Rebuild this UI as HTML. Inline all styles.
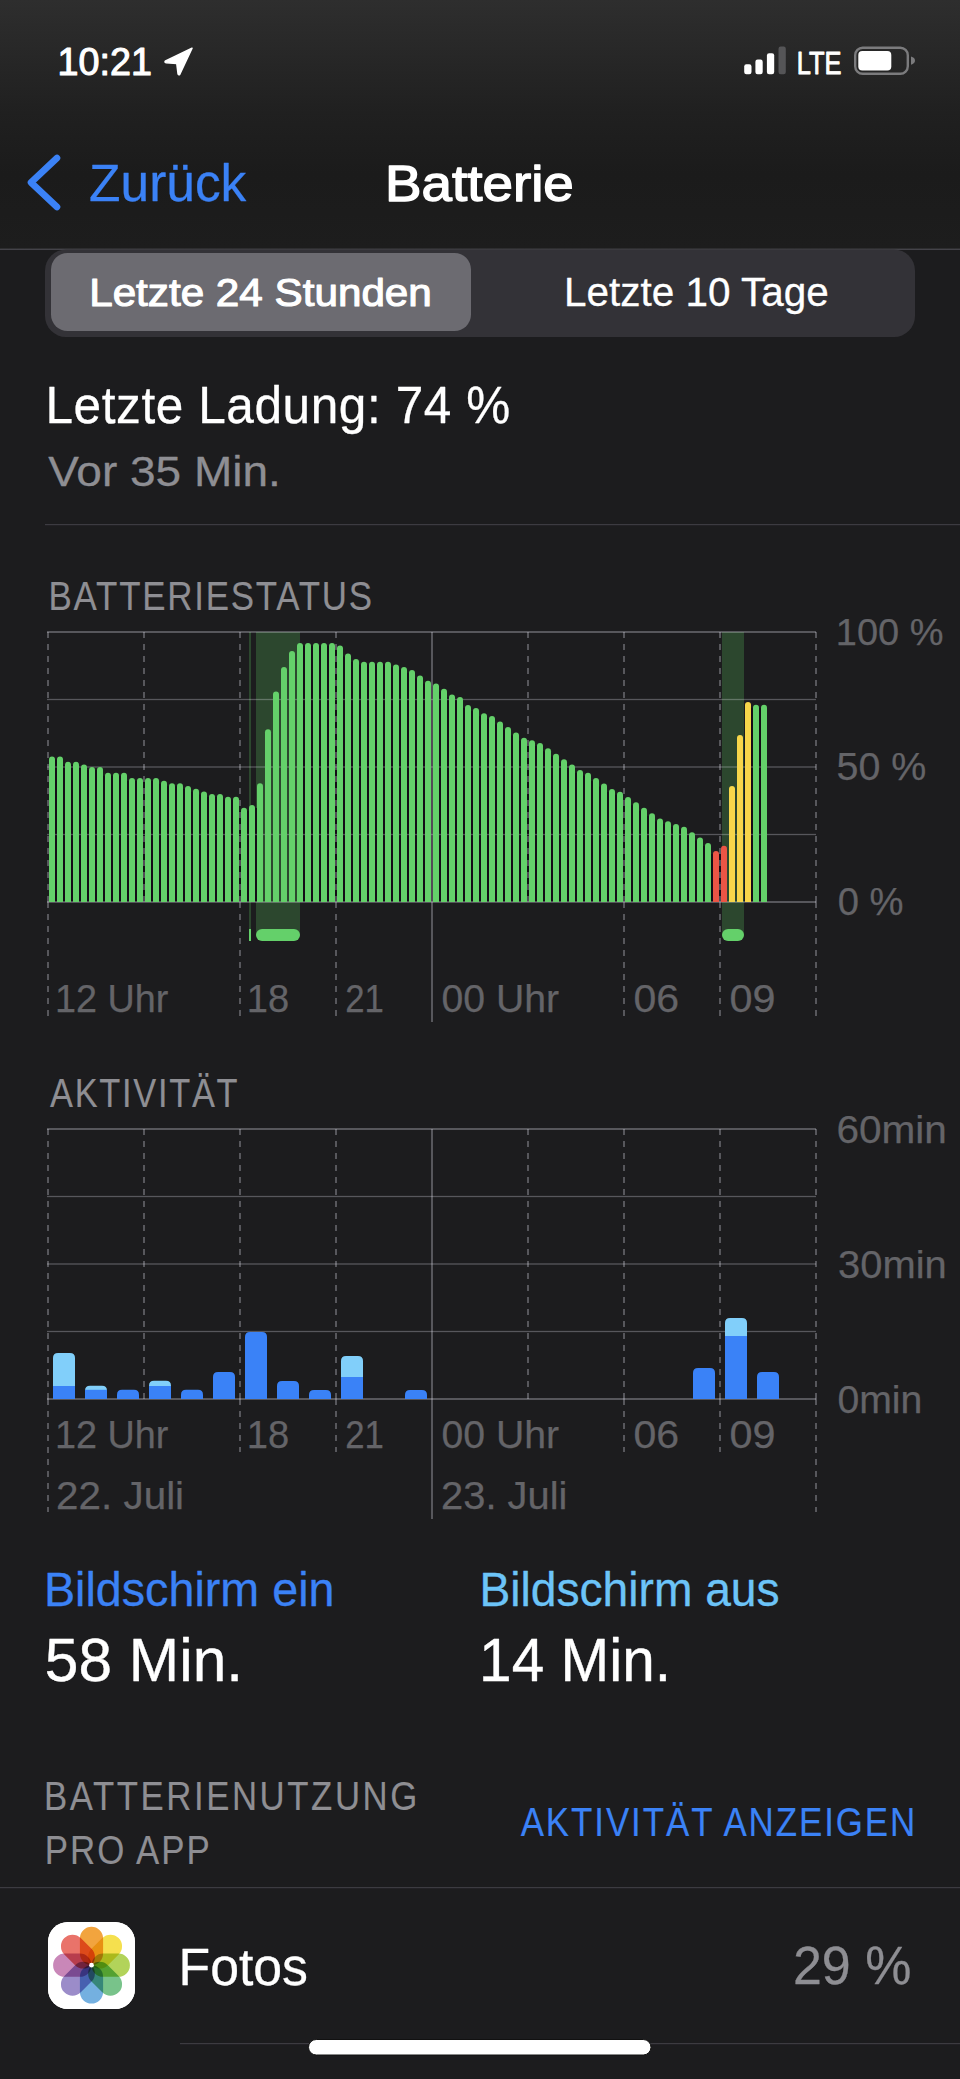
<!DOCTYPE html>
<html><head><meta charset="utf-8"><title>Batterie</title>
<style>html,body{margin:0;padding:0;background:#1c1c1e;width:960px;height:2079px;overflow:hidden;font-family:"Liberation Sans", sans-serif;}</style>
</head><body>
<svg width="960" height="2079" viewBox="0 0 960 2079" style="display:block;font-family:&quot;Liberation Sans&quot;, sans-serif">
<rect width="960" height="2079" fill="#1c1c1e"/>
<defs><linearGradient id="hg" x1="0" y1="0" x2="0" y2="1"><stop offset="0" stop-color="#2e2e2e"/><stop offset="0.45" stop-color="#202020"/><stop offset="0.7" stop-color="#1b1b1b"/><stop offset="1" stop-color="#1d1d1d"/></linearGradient></defs>
<rect x="0" y="0" width="960" height="249" fill="url(#hg)"/>
<path d="M192,48.2 L165.6,60.9 Q164.2,62.3 166.2,62.8 L176.8,63.4 L178.1,74 Q178.9,75.6 179.9,74 Z" fill="#fff" stroke="#fff" stroke-width="1.6" stroke-linejoin="round"/>
<rect x="744.2" y="64.2" width="7.3" height="10.0" rx="2.2" fill="#fff"/>
<rect x="755.4" y="59.6" width="7.3" height="14.6" rx="2.2" fill="#fff"/>
<rect x="766.9" y="53.3" width="7.3" height="20.9" rx="2.2" fill="#fff"/>
<rect x="778.5" y="46.5" width="7.3" height="27.7" rx="2.2" fill="#555557"/>
<rect x="855.2" y="47.7" width="52.6" height="26.1" rx="7.5" fill="none" stroke="#7b7b7d" stroke-width="2.4"/>
<rect x="858.3" y="51" width="33" height="19.4" rx="4" fill="#fff"/>
<path d="M911,56.5 Q915,57.5 915,60.6 Q915,63.7 911,64.8 Z" fill="#7b7b7d"/>
<path d="M57,158 L31,182.5 L57,207" fill="none" stroke="#3b82f6" stroke-width="6.6" stroke-linecap="round" stroke-linejoin="round"/>
<rect x="0" y="248.6" width="960" height="1.3" fill="#4a494e"/>
<rect x="45" y="249.5" width="870" height="87.5" rx="21" fill="#333237"/>
<rect x="51" y="253" width="420" height="78" rx="16.5" fill="#6c6b71"/>
<rect x="45" y="524" width="915" height="1.2" fill="#3c3b41"/>
<rect x="256" y="632" width="44" height="303" fill="#2c472e"/>
<rect x="722" y="632" width="22" height="303" fill="#2c472e"/>
<rect x="249" y="632" width="2" height="303" fill="#2c472e"/>
<rect x="55" y="759.5" width="2" height="142.5" fill="#140c16"/>
<rect x="63" y="764.8" width="2" height="137.2" fill="#140c16"/>
<rect x="71" y="764.8" width="2" height="137.2" fill="#140c16"/>
<rect x="79" y="767.5" width="2" height="134.5" fill="#140c16"/>
<rect x="87" y="770.0" width="2" height="132.0" fill="#140c16"/>
<rect x="95" y="770.0" width="2" height="132.0" fill="#140c16"/>
<rect x="103" y="775.8" width="2" height="126.2" fill="#140c16"/>
<rect x="111" y="775.8" width="2" height="126.2" fill="#140c16"/>
<rect x="119" y="775.8" width="2" height="126.2" fill="#140c16"/>
<rect x="127" y="781.0" width="2" height="121.0" fill="#140c16"/>
<rect x="135" y="781.0" width="2" height="121.0" fill="#140c16"/>
<rect x="143" y="781.0" width="2" height="121.0" fill="#140c16"/>
<rect x="151" y="781.0" width="2" height="121.0" fill="#140c16"/>
<rect x="159" y="783.8" width="2" height="118.2" fill="#140c16"/>
<rect x="167" y="786.3" width="2" height="115.7" fill="#140c16"/>
<rect x="175" y="786.3" width="2" height="115.7" fill="#140c16"/>
<rect x="183" y="789.0" width="2" height="113.0" fill="#140c16"/>
<rect x="191" y="791.8" width="2" height="110.2" fill="#140c16"/>
<rect x="199" y="794.6" width="2" height="107.4" fill="#140c16"/>
<rect x="207" y="797.0" width="2" height="105.0" fill="#140c16"/>
<rect x="215" y="797.0" width="2" height="105.0" fill="#140c16"/>
<rect x="223" y="799.8" width="2" height="102.2" fill="#140c16"/>
<rect x="231" y="799.8" width="2" height="102.2" fill="#140c16"/>
<rect x="239" y="810.8" width="2" height="91.2" fill="#140c16"/>
<rect x="247" y="810.8" width="2" height="91.2" fill="#140c16"/>
<rect x="255" y="808.0" width="2" height="94.0" fill="#140c16"/>
<rect x="303" y="645.9" width="2" height="256.1" fill="#140c16"/>
<rect x="311" y="645.9" width="2" height="256.1" fill="#140c16"/>
<rect x="319" y="645.9" width="2" height="256.1" fill="#140c16"/>
<rect x="327" y="645.9" width="2" height="256.1" fill="#140c16"/>
<rect x="335" y="648.6" width="2" height="253.4" fill="#140c16"/>
<rect x="343" y="656.6" width="2" height="245.4" fill="#140c16"/>
<rect x="351" y="661.9" width="2" height="240.1" fill="#140c16"/>
<rect x="359" y="664.7" width="2" height="237.3" fill="#140c16"/>
<rect x="367" y="664.7" width="2" height="237.3" fill="#140c16"/>
<rect x="375" y="664.7" width="2" height="237.3" fill="#140c16"/>
<rect x="383" y="664.7" width="2" height="237.3" fill="#140c16"/>
<rect x="391" y="667.4" width="2" height="234.6" fill="#140c16"/>
<rect x="399" y="669.9" width="2" height="232.1" fill="#140c16"/>
<rect x="407" y="672.9" width="2" height="229.1" fill="#140c16"/>
<rect x="415" y="678.4" width="2" height="223.6" fill="#140c16"/>
<rect x="423" y="683.7" width="2" height="218.3" fill="#140c16"/>
<rect x="431" y="686.4" width="2" height="215.6" fill="#140c16"/>
<rect x="439" y="691.7" width="2" height="210.3" fill="#140c16"/>
<rect x="447" y="697.4" width="2" height="204.6" fill="#140c16"/>
<rect x="455" y="700.1" width="2" height="201.9" fill="#140c16"/>
<rect x="463" y="708.1" width="2" height="193.9" fill="#140c16"/>
<rect x="471" y="710.9" width="2" height="191.1" fill="#140c16"/>
<rect x="479" y="716.2" width="2" height="185.8" fill="#140c16"/>
<rect x="487" y="718.9" width="2" height="183.1" fill="#140c16"/>
<rect x="495" y="724.4" width="2" height="177.6" fill="#140c16"/>
<rect x="503" y="729.9" width="2" height="172.1" fill="#140c16"/>
<rect x="511" y="735.4" width="2" height="166.6" fill="#140c16"/>
<rect x="519" y="740.7" width="2" height="161.3" fill="#140c16"/>
<rect x="527" y="743.2" width="2" height="158.8" fill="#140c16"/>
<rect x="535" y="746.0" width="2" height="156.0" fill="#140c16"/>
<rect x="543" y="751.2" width="2" height="150.8" fill="#140c16"/>
<rect x="551" y="756.7" width="2" height="145.3" fill="#140c16"/>
<rect x="559" y="762.2" width="2" height="139.8" fill="#140c16"/>
<rect x="567" y="767.5" width="2" height="134.5" fill="#140c16"/>
<rect x="575" y="773.0" width="2" height="129.0" fill="#140c16"/>
<rect x="583" y="775.7" width="2" height="126.3" fill="#140c16"/>
<rect x="591" y="781.0" width="2" height="121.0" fill="#140c16"/>
<rect x="599" y="786.5" width="2" height="115.5" fill="#140c16"/>
<rect x="607" y="792.0" width="2" height="110.0" fill="#140c16"/>
<rect x="615" y="794.8" width="2" height="107.2" fill="#140c16"/>
<rect x="623" y="800.0" width="2" height="102.0" fill="#140c16"/>
<rect x="631" y="805.3" width="2" height="96.7" fill="#140c16"/>
<rect x="639" y="810.8" width="2" height="91.2" fill="#140c16"/>
<rect x="647" y="816.2" width="2" height="85.8" fill="#140c16"/>
<rect x="655" y="821.4" width="2" height="80.6" fill="#140c16"/>
<rect x="663" y="824.2" width="2" height="77.8" fill="#140c16"/>
<rect x="671" y="826.9" width="2" height="75.1" fill="#140c16"/>
<rect x="679" y="829.7" width="2" height="72.3" fill="#140c16"/>
<rect x="687" y="835.2" width="2" height="66.8" fill="#140c16"/>
<rect x="695" y="840.5" width="2" height="61.5" fill="#140c16"/>
<rect x="703" y="846.0" width="2" height="56.0" fill="#140c16"/>
<rect x="711" y="854.0" width="2" height="48.0" fill="#140c16"/>
<rect x="719" y="854.0" width="2" height="48.0" fill="#140c16"/>
<rect x="751" y="707.8" width="2" height="194.2" fill="#140c16"/>
<rect x="759" y="707.8" width="2" height="194.2" fill="#140c16"/>
<rect x="47" y="631.0" width="769" height="2" fill="rgba(235,235,245,0.29)"/>
<rect x="47" y="698.85" width="769" height="1.3" fill="rgba(235,235,245,0.29)"/>
<rect x="47" y="766.35" width="769" height="1.3" fill="rgba(235,235,245,0.29)"/>
<rect x="47" y="833.85" width="769" height="1.3" fill="rgba(235,235,245,0.29)"/>
<rect x="47" y="901.0" width="769" height="2" fill="rgba(235,235,245,0.29)"/>
<line x1="48" y1="632" x2="48" y2="902" stroke="rgba(235,235,245,0.29)" stroke-width="2" stroke-dasharray="6 6"/>
<line x1="144" y1="632" x2="144" y2="902" stroke="rgba(235,235,245,0.29)" stroke-width="2" stroke-dasharray="6 6"/>
<line x1="240" y1="632" x2="240" y2="902" stroke="rgba(235,235,245,0.29)" stroke-width="2" stroke-dasharray="6 6"/>
<line x1="336" y1="632" x2="336" y2="902" stroke="rgba(235,235,245,0.29)" stroke-width="2" stroke-dasharray="6 6"/>
<line x1="528" y1="632" x2="528" y2="902" stroke="rgba(235,235,245,0.29)" stroke-width="2" stroke-dasharray="6 6"/>
<line x1="624" y1="632" x2="624" y2="902" stroke="rgba(235,235,245,0.29)" stroke-width="2" stroke-dasharray="6 6"/>
<line x1="720" y1="632" x2="720" y2="902" stroke="rgba(235,235,245,0.29)" stroke-width="2" stroke-dasharray="6 6"/>
<line x1="816" y1="632" x2="816" y2="902" stroke="rgba(235,235,245,0.29)" stroke-width="2" stroke-dasharray="6 6"/>
<rect x="431.0" y="632" width="2" height="270" fill="rgba(235,235,245,0.29)"/>
<line x1="48" y1="902" x2="48" y2="1016" stroke="rgba(235,235,245,0.29)" stroke-width="2" stroke-dasharray="6 6"/>
<line x1="240" y1="902" x2="240" y2="1016" stroke="rgba(235,235,245,0.29)" stroke-width="2" stroke-dasharray="6 6"/>
<line x1="336" y1="902" x2="336" y2="1016" stroke="rgba(235,235,245,0.29)" stroke-width="2" stroke-dasharray="6 6"/>
<line x1="624" y1="902" x2="624" y2="1016" stroke="rgba(235,235,245,0.29)" stroke-width="2" stroke-dasharray="6 6"/>
<line x1="720" y1="902" x2="720" y2="1016" stroke="rgba(235,235,245,0.29)" stroke-width="2" stroke-dasharray="6 6"/>
<line x1="816" y1="902" x2="816" y2="1016" stroke="rgba(235,235,245,0.29)" stroke-width="2" stroke-dasharray="6 6"/>
<rect x="431.0" y="902" width="2" height="120" fill="rgba(235,235,245,0.29)"/>
<rect x="256" y="929" width="44" height="12" rx="6" fill="#64d06a"/>
<rect x="722" y="929" width="22" height="12" rx="6" fill="#64d06a"/>
<rect x="249" y="929" width="2" height="12" fill="#64d06a"/>
<path d="M49,902 L49,759.5 A3,3 0 0 1 55,759.5 L55,902 Z" fill="#64d06a"/>
<path d="M57,902 L57,759.5 A3,3 0 0 1 63,759.5 L63,902 Z" fill="#64d06a"/>
<path d="M65,902 L65,764.8 A3,3 0 0 1 71,764.8 L71,902 Z" fill="#64d06a"/>
<path d="M73,902 L73,764.8 A3,3 0 0 1 79,764.8 L79,902 Z" fill="#64d06a"/>
<path d="M81,902 L81,767.5 A3,3 0 0 1 87,767.5 L87,902 Z" fill="#64d06a"/>
<path d="M89,902 L89,770.0 A3,3 0 0 1 95,770.0 L95,902 Z" fill="#64d06a"/>
<path d="M97,902 L97,770.0 A3,3 0 0 1 103,770.0 L103,902 Z" fill="#64d06a"/>
<path d="M105,902 L105,775.8 A3,3 0 0 1 111,775.8 L111,902 Z" fill="#64d06a"/>
<path d="M113,902 L113,775.8 A3,3 0 0 1 119,775.8 L119,902 Z" fill="#64d06a"/>
<path d="M121,902 L121,775.8 A3,3 0 0 1 127,775.8 L127,902 Z" fill="#64d06a"/>
<path d="M129,902 L129,781.0 A3,3 0 0 1 135,781.0 L135,902 Z" fill="#64d06a"/>
<path d="M137,902 L137,781.0 A3,3 0 0 1 143,781.0 L143,902 Z" fill="#64d06a"/>
<path d="M145,902 L145,781.0 A3,3 0 0 1 151,781.0 L151,902 Z" fill="#64d06a"/>
<path d="M153,902 L153,781.0 A3,3 0 0 1 159,781.0 L159,902 Z" fill="#64d06a"/>
<path d="M161,902 L161,783.8 A3,3 0 0 1 167,783.8 L167,902 Z" fill="#64d06a"/>
<path d="M169,902 L169,786.3 A3,3 0 0 1 175,786.3 L175,902 Z" fill="#64d06a"/>
<path d="M177,902 L177,786.3 A3,3 0 0 1 183,786.3 L183,902 Z" fill="#64d06a"/>
<path d="M185,902 L185,789.0 A3,3 0 0 1 191,789.0 L191,902 Z" fill="#64d06a"/>
<path d="M193,902 L193,791.8 A3,3 0 0 1 199,791.8 L199,902 Z" fill="#64d06a"/>
<path d="M201,902 L201,794.6 A3,3 0 0 1 207,794.6 L207,902 Z" fill="#64d06a"/>
<path d="M209,902 L209,797.0 A3,3 0 0 1 215,797.0 L215,902 Z" fill="#64d06a"/>
<path d="M217,902 L217,797.0 A3,3 0 0 1 223,797.0 L223,902 Z" fill="#64d06a"/>
<path d="M225,902 L225,799.8 A3,3 0 0 1 231,799.8 L231,902 Z" fill="#64d06a"/>
<path d="M233,902 L233,799.8 A3,3 0 0 1 239,799.8 L239,902 Z" fill="#64d06a"/>
<path d="M241,902 L241,810.8 A3,3 0 0 1 247,810.8 L247,902 Z" fill="#64d06a"/>
<path d="M249,902 L249,808.0 A3,3 0 0 1 255,808.0 L255,902 Z" fill="#64d06a"/>
<path d="M257,902 L257,786.3 A3,3 0 0 1 263,786.3 L263,902 Z" fill="#64d06a"/>
<path d="M265,902 L265,732.3 A3,3 0 0 1 271,732.3 L271,902 Z" fill="#64d06a"/>
<path d="M273,902 L273,694.5 A3,3 0 0 1 279,694.5 L279,902 Z" fill="#64d06a"/>
<path d="M281,902 L281,669.9 A3,3 0 0 1 287,669.9 L287,902 Z" fill="#64d06a"/>
<path d="M289,902 L289,653.9 A3,3 0 0 1 295,653.9 L295,902 Z" fill="#64d06a"/>
<path d="M297,902 L297,645.9 A3,3 0 0 1 303,645.9 L303,902 Z" fill="#64d06a"/>
<path d="M305,902 L305,645.9 A3,3 0 0 1 311,645.9 L311,902 Z" fill="#64d06a"/>
<path d="M313,902 L313,645.9 A3,3 0 0 1 319,645.9 L319,902 Z" fill="#64d06a"/>
<path d="M321,902 L321,645.9 A3,3 0 0 1 327,645.9 L327,902 Z" fill="#64d06a"/>
<path d="M329,902 L329,645.9 A3,3 0 0 1 335,645.9 L335,902 Z" fill="#64d06a"/>
<path d="M337,902 L337,648.6 A3,3 0 0 1 343,648.6 L343,902 Z" fill="#64d06a"/>
<path d="M345,902 L345,656.6 A3,3 0 0 1 351,656.6 L351,902 Z" fill="#64d06a"/>
<path d="M353,902 L353,661.9 A3,3 0 0 1 359,661.9 L359,902 Z" fill="#64d06a"/>
<path d="M361,902 L361,664.7 A3,3 0 0 1 367,664.7 L367,902 Z" fill="#64d06a"/>
<path d="M369,902 L369,664.7 A3,3 0 0 1 375,664.7 L375,902 Z" fill="#64d06a"/>
<path d="M377,902 L377,664.7 A3,3 0 0 1 383,664.7 L383,902 Z" fill="#64d06a"/>
<path d="M385,902 L385,664.7 A3,3 0 0 1 391,664.7 L391,902 Z" fill="#64d06a"/>
<path d="M393,902 L393,667.4 A3,3 0 0 1 399,667.4 L399,902 Z" fill="#64d06a"/>
<path d="M401,902 L401,669.9 A3,3 0 0 1 407,669.9 L407,902 Z" fill="#64d06a"/>
<path d="M409,902 L409,672.9 A3,3 0 0 1 415,672.9 L415,902 Z" fill="#64d06a"/>
<path d="M417,902 L417,678.4 A3,3 0 0 1 423,678.4 L423,902 Z" fill="#64d06a"/>
<path d="M425,902 L425,683.7 A3,3 0 0 1 431,683.7 L431,902 Z" fill="#64d06a"/>
<path d="M433,902 L433,686.4 A3,3 0 0 1 439,686.4 L439,902 Z" fill="#64d06a"/>
<path d="M441,902 L441,691.7 A3,3 0 0 1 447,691.7 L447,902 Z" fill="#64d06a"/>
<path d="M449,902 L449,697.4 A3,3 0 0 1 455,697.4 L455,902 Z" fill="#64d06a"/>
<path d="M457,902 L457,700.1 A3,3 0 0 1 463,700.1 L463,902 Z" fill="#64d06a"/>
<path d="M465,902 L465,708.1 A3,3 0 0 1 471,708.1 L471,902 Z" fill="#64d06a"/>
<path d="M473,902 L473,710.9 A3,3 0 0 1 479,710.9 L479,902 Z" fill="#64d06a"/>
<path d="M481,902 L481,716.2 A3,3 0 0 1 487,716.2 L487,902 Z" fill="#64d06a"/>
<path d="M489,902 L489,718.9 A3,3 0 0 1 495,718.9 L495,902 Z" fill="#64d06a"/>
<path d="M497,902 L497,724.4 A3,3 0 0 1 503,724.4 L503,902 Z" fill="#64d06a"/>
<path d="M505,902 L505,729.9 A3,3 0 0 1 511,729.9 L511,902 Z" fill="#64d06a"/>
<path d="M513,902 L513,735.4 A3,3 0 0 1 519,735.4 L519,902 Z" fill="#64d06a"/>
<path d="M521,902 L521,740.7 A3,3 0 0 1 527,740.7 L527,902 Z" fill="#64d06a"/>
<path d="M529,902 L529,743.2 A3,3 0 0 1 535,743.2 L535,902 Z" fill="#64d06a"/>
<path d="M537,902 L537,746.0 A3,3 0 0 1 543,746.0 L543,902 Z" fill="#64d06a"/>
<path d="M545,902 L545,751.2 A3,3 0 0 1 551,751.2 L551,902 Z" fill="#64d06a"/>
<path d="M553,902 L553,756.7 A3,3 0 0 1 559,756.7 L559,902 Z" fill="#64d06a"/>
<path d="M561,902 L561,762.2 A3,3 0 0 1 567,762.2 L567,902 Z" fill="#64d06a"/>
<path d="M569,902 L569,767.5 A3,3 0 0 1 575,767.5 L575,902 Z" fill="#64d06a"/>
<path d="M577,902 L577,773.0 A3,3 0 0 1 583,773.0 L583,902 Z" fill="#64d06a"/>
<path d="M585,902 L585,775.7 A3,3 0 0 1 591,775.7 L591,902 Z" fill="#64d06a"/>
<path d="M593,902 L593,781.0 A3,3 0 0 1 599,781.0 L599,902 Z" fill="#64d06a"/>
<path d="M601,902 L601,786.5 A3,3 0 0 1 607,786.5 L607,902 Z" fill="#64d06a"/>
<path d="M609,902 L609,792.0 A3,3 0 0 1 615,792.0 L615,902 Z" fill="#64d06a"/>
<path d="M617,902 L617,794.8 A3,3 0 0 1 623,794.8 L623,902 Z" fill="#64d06a"/>
<path d="M625,902 L625,800.0 A3,3 0 0 1 631,800.0 L631,902 Z" fill="#64d06a"/>
<path d="M633,902 L633,805.3 A3,3 0 0 1 639,805.3 L639,902 Z" fill="#64d06a"/>
<path d="M641,902 L641,810.8 A3,3 0 0 1 647,810.8 L647,902 Z" fill="#64d06a"/>
<path d="M649,902 L649,816.2 A3,3 0 0 1 655,816.2 L655,902 Z" fill="#64d06a"/>
<path d="M657,902 L657,821.4 A3,3 0 0 1 663,821.4 L663,902 Z" fill="#64d06a"/>
<path d="M665,902 L665,824.2 A3,3 0 0 1 671,824.2 L671,902 Z" fill="#64d06a"/>
<path d="M673,902 L673,826.9 A3,3 0 0 1 679,826.9 L679,902 Z" fill="#64d06a"/>
<path d="M681,902 L681,829.7 A3,3 0 0 1 687,829.7 L687,902 Z" fill="#64d06a"/>
<path d="M689,902 L689,835.2 A3,3 0 0 1 695,835.2 L695,902 Z" fill="#64d06a"/>
<path d="M697,902 L697,840.5 A3,3 0 0 1 703,840.5 L703,902 Z" fill="#64d06a"/>
<path d="M705,902 L705,846.0 A3,3 0 0 1 711,846.0 L711,902 Z" fill="#64d06a"/>
<path d="M713,902 L713,854.0 A3,3 0 0 1 719,854.0 L719,902 Z" fill="#eb5545"/>
<path d="M721,902 L721,848.7 A3,3 0 0 1 727,848.7 L727,902 Z" fill="#eb5545"/>
<path d="M729,902 L729,789.1 A3,3 0 0 1 735,789.1 L735,902 Z" fill="#f7d64a"/>
<path d="M737,902 L737,738.0 A3,3 0 0 1 743,738.0 L743,902 Z" fill="#f7d64a"/>
<path d="M745,902 L745,705.0 A3,3 0 0 1 751,705.0 L751,902 Z" fill="#f7d64a"/>
<path d="M753,902 L753,707.8 A3,3 0 0 1 759,707.8 L759,902 Z" fill="#64d06a"/>
<path d="M761,902 L761,707.8 A3,3 0 0 1 767,707.8 L767,902 Z" fill="#64d06a"/>
<rect x="47" y="1128.0" width="769" height="2" fill="rgba(235,235,245,0.29)"/>
<rect x="47" y="1195.85" width="769" height="1.3" fill="rgba(235,235,245,0.29)"/>
<rect x="47" y="1263.35" width="769" height="1.3" fill="rgba(235,235,245,0.29)"/>
<rect x="47" y="1330.85" width="769" height="1.3" fill="rgba(235,235,245,0.29)"/>
<rect x="47" y="1398.0" width="769" height="2" fill="rgba(235,235,245,0.29)"/>
<line x1="48" y1="1129" x2="48" y2="1399" stroke="rgba(235,235,245,0.29)" stroke-width="2" stroke-dasharray="6 6"/>
<line x1="144" y1="1129" x2="144" y2="1399" stroke="rgba(235,235,245,0.29)" stroke-width="2" stroke-dasharray="6 6"/>
<line x1="240" y1="1129" x2="240" y2="1399" stroke="rgba(235,235,245,0.29)" stroke-width="2" stroke-dasharray="6 6"/>
<line x1="336" y1="1129" x2="336" y2="1399" stroke="rgba(235,235,245,0.29)" stroke-width="2" stroke-dasharray="6 6"/>
<line x1="528" y1="1129" x2="528" y2="1399" stroke="rgba(235,235,245,0.29)" stroke-width="2" stroke-dasharray="6 6"/>
<line x1="624" y1="1129" x2="624" y2="1399" stroke="rgba(235,235,245,0.29)" stroke-width="2" stroke-dasharray="6 6"/>
<line x1="720" y1="1129" x2="720" y2="1399" stroke="rgba(235,235,245,0.29)" stroke-width="2" stroke-dasharray="6 6"/>
<line x1="816" y1="1129" x2="816" y2="1399" stroke="rgba(235,235,245,0.29)" stroke-width="2" stroke-dasharray="6 6"/>
<rect x="431.0" y="1129" width="2" height="270" fill="rgba(235,235,245,0.29)"/>
<line x1="240" y1="1399" x2="240" y2="1452" stroke="rgba(235,235,245,0.29)" stroke-width="2" stroke-dasharray="6 6"/>
<line x1="336" y1="1399" x2="336" y2="1452" stroke="rgba(235,235,245,0.29)" stroke-width="2" stroke-dasharray="6 6"/>
<line x1="624" y1="1399" x2="624" y2="1452" stroke="rgba(235,235,245,0.29)" stroke-width="2" stroke-dasharray="6 6"/>
<line x1="720" y1="1399" x2="720" y2="1452" stroke="rgba(235,235,245,0.29)" stroke-width="2" stroke-dasharray="6 6"/>
<line x1="48" y1="1399" x2="48" y2="1512" stroke="rgba(235,235,245,0.29)" stroke-width="2" stroke-dasharray="6 6"/>
<line x1="816" y1="1399" x2="816" y2="1512" stroke="rgba(235,235,245,0.29)" stroke-width="2" stroke-dasharray="6 6"/>
<rect x="431.0" y="1399" width="2" height="120" fill="rgba(235,235,245,0.29)"/>
<path d="M53,1399 L53,1358 Q53,1353 58,1353 L70,1353 Q75,1353 75,1358 L75,1399 Z" fill="#81cffa"/>
<rect x="53" y="1386" width="22" height="13" fill="#3a82f7"/>
<path d="M85,1399.0 L85,1390.8 Q85,1385.8 90,1385.8 L102,1385.8 Q107,1385.8 107,1390.8 L107,1399.0 Z" fill="#81cffa"/>
<rect x="85" y="1389.8" width="22" height="9.2" fill="#3a82f7"/>
<path d="M117,1399.0 L117,1394.8 Q117,1389.8 122,1389.8 L134,1389.8 Q139,1389.8 139,1394.8 L139,1399.0 Z" fill="#3a82f7"/>
<path d="M149,1399.0 L149,1385.8 Q149,1380.8 154,1380.8 L166,1380.8 Q171,1380.8 171,1385.8 L171,1399.0 Z" fill="#81cffa"/>
<rect x="149" y="1386" width="22" height="13" fill="#3a82f7"/>
<path d="M181,1399.0 L181,1394.8 Q181,1389.8 186,1389.8 L198,1389.8 Q203,1389.8 203,1394.8 L203,1399.0 Z" fill="#3a82f7"/>
<path d="M213,1399 L213,1377 Q213,1372 218,1372 L230,1372 Q235,1372 235,1377 L235,1399 Z" fill="#3a82f7"/>
<path d="M245,1399 L245,1337 Q245,1332 250,1332 L262,1332 Q267,1332 267,1337 L267,1399 Z" fill="#3a82f7"/>
<path d="M277,1399 L277,1386 Q277,1381 282,1381 L294,1381 Q299,1381 299,1386 L299,1399 Z" fill="#3a82f7"/>
<path d="M309,1399 L309,1395 Q309,1390 314,1390 L326,1390 Q331,1390 331,1395 L331,1399 Z" fill="#3a82f7"/>
<path d="M341,1399 L341,1361 Q341,1356 346,1356 L358,1356 Q363,1356 363,1361 L363,1399 Z" fill="#81cffa"/>
<rect x="341" y="1377" width="22" height="22" fill="#3a82f7"/>
<path d="M405,1399 L405,1395 Q405,1390 410,1390 L422,1390 Q427,1390 427,1395 L427,1399 Z" fill="#3a82f7"/>
<path d="M693,1399 L693,1373 Q693,1368 698,1368 L710,1368 Q715,1368 715,1373 L715,1399 Z" fill="#3a82f7"/>
<path d="M725,1399 L725,1323 Q725,1318 730,1318 L742,1318 Q747,1318 747,1323 L747,1399 Z" fill="#81cffa"/>
<rect x="725" y="1336" width="22" height="63" fill="#3a82f7"/>
<path d="M757,1399 L757,1377 Q757,1372 762,1372 L774,1372 Q779,1372 779,1377 L779,1399 Z" fill="#3a82f7"/>
<rect x="0" y="1887" width="960" height="1.2" fill="#3c3b41"/>
<rect x="48" y="1922" width="87" height="87" rx="20" fill="#fff"/>
<g style="isolation:isolate">
<rect x="48" y="1922" width="87" height="87" rx="20" fill="#fff"/>
<path d="M-11.6,-26.8 A11.6,11.6 0 0 1 11.6,-26.8 L11.6,-11.6 A11.6,11.6 0 0 1 -11.6,-11.6 Z" fill="#f2a43e" transform="translate(91.5 1965.2) rotate(0)" style="mix-blend-mode:multiply"/>
<path d="M-11.6,-26.8 A11.6,11.6 0 0 1 11.6,-26.8 L11.6,-11.6 A11.6,11.6 0 0 1 -11.6,-11.6 Z" fill="#f5e04e" transform="translate(91.5 1965.2) rotate(45)" style="mix-blend-mode:multiply"/>
<path d="M-11.6,-26.8 A11.6,11.6 0 0 1 11.6,-26.8 L11.6,-11.6 A11.6,11.6 0 0 1 -11.6,-11.6 Z" fill="#b2d35a" transform="translate(91.5 1965.2) rotate(90)" style="mix-blend-mode:multiply"/>
<path d="M-11.6,-26.8 A11.6,11.6 0 0 1 11.6,-26.8 L11.6,-11.6 A11.6,11.6 0 0 1 -11.6,-11.6 Z" fill="#78c38a" transform="translate(91.5 1965.2) rotate(135)" style="mix-blend-mode:multiply"/>
<path d="M-11.6,-26.8 A11.6,11.6 0 0 1 11.6,-26.8 L11.6,-11.6 A11.6,11.6 0 0 1 -11.6,-11.6 Z" fill="#74b0e0" transform="translate(91.5 1965.2) rotate(180)" style="mix-blend-mode:multiply"/>
<path d="M-11.6,-26.8 A11.6,11.6 0 0 1 11.6,-26.8 L11.6,-11.6 A11.6,11.6 0 0 1 -11.6,-11.6 Z" fill="#9b8cc9" transform="translate(91.5 1965.2) rotate(225)" style="mix-blend-mode:multiply"/>
<path d="M-11.6,-26.8 A11.6,11.6 0 0 1 11.6,-26.8 L11.6,-11.6 A11.6,11.6 0 0 1 -11.6,-11.6 Z" fill="#c987b8" transform="translate(91.5 1965.2) rotate(270)" style="mix-blend-mode:multiply"/>
<path d="M-11.6,-26.8 A11.6,11.6 0 0 1 11.6,-26.8 L11.6,-11.6 A11.6,11.6 0 0 1 -11.6,-11.6 Z" fill="#e9736a" transform="translate(91.5 1965.2) rotate(315)" style="mix-blend-mode:multiply"/>
</g>
<circle cx="91.5" cy="1965.2" r="2.4" fill="#fff"/>
<rect x="180" y="2043" width="780" height="1.2" fill="#3c3b41"/>
<rect x="308.5" y="2039.5" width="342.5" height="15.5" rx="7.75" fill="#fff" stroke="#111" stroke-width="1"/>
<text x="57.61" y="75" font-size="39.61" fill="#ffffff" textLength="94.38" lengthAdjust="spacingAndGlyphs" stroke="#ffffff" stroke-width="1.1" stroke-linejoin="round">10:21</text>
<text x="796.71" y="73.5" font-size="30.60" fill="#ffffff" textLength="44.78" lengthAdjust="spacingAndGlyphs" stroke="#ffffff" stroke-width="0.9" stroke-linejoin="round">LTE</text>
<text x="89.11" y="201" font-size="52.25" fill="#3b82f6" textLength="157.23" lengthAdjust="spacingAndGlyphs" stroke="#3b82f6" stroke-width="0.3" stroke-linejoin="round">Zurück</text>
<text x="385.07" y="201" font-size="50.58" fill="#ffffff" textLength="188.71" lengthAdjust="spacingAndGlyphs" stroke="#ffffff" stroke-width="1.4" stroke-linejoin="round">Batterie</text>
<text x="89.17" y="305.5" font-size="39.17" fill="#ffffff" textLength="342.65" lengthAdjust="spacingAndGlyphs" stroke="#ffffff" stroke-width="1.1" stroke-linejoin="round">Letzte 24 Stunden</text>
<text x="564.12" y="306" font-size="40.33" fill="#ffffff" textLength="264.69" lengthAdjust="spacingAndGlyphs" stroke="#ffffff" stroke-width="0.3" stroke-linejoin="round">Letzte 10 Tage</text>
<text transform="translate(45.44 423) scale(0.94 1)" x="0" y="0" font-size="52.69" fill="#ffffff" textLength="494.53" lengthAdjust="spacing" stroke="#ffffff" stroke-width="0.3" stroke-linejoin="round">Letzte Ladung: 74 %</text>
<text x="48.15" y="486" font-size="43.39" fill="#8e8e93" textLength="232.74" lengthAdjust="spacingAndGlyphs" stroke="#8e8e93" stroke-width="0.3" stroke-linejoin="round">Vor 35 Min.</text>
<text transform="translate(48.58 610.3) scale(0.86 1)" x="0" y="0" font-size="40.59" fill="#8e8e93" textLength="376.09" lengthAdjust="spacing" stroke="#8e8e93" stroke-width="0.15" stroke-linejoin="round">BATTERIESTATUS</text>
<text x="835.77" y="645.2" font-size="37.61" fill="#646468" textLength="107.72" lengthAdjust="spacingAndGlyphs" stroke="#646468" stroke-width="0.25" stroke-linejoin="round">100 %</text>
<text x="836.55" y="780.2" font-size="37.90" fill="#646468" textLength="89.77" lengthAdjust="spacingAndGlyphs" stroke="#646468" stroke-width="0.25" stroke-linejoin="round">50 %</text>
<text x="837.68" y="915.2" font-size="37.90" fill="#646468" textLength="65.81" lengthAdjust="spacingAndGlyphs" stroke="#646468" stroke-width="0.25" stroke-linejoin="round">0 %</text>
<text x="54.98" y="1011.7" font-size="38.63" fill="#646468" textLength="113.39" lengthAdjust="spacingAndGlyphs" stroke="#646468" stroke-width="0.25" stroke-linejoin="round">12 Uhr</text>
<text x="54.98" y="1448.3" font-size="38.48" fill="#646468" textLength="113.39" lengthAdjust="spacingAndGlyphs" stroke="#646468" stroke-width="0.25" stroke-linejoin="round">12 Uhr</text>
<text x="246.86" y="1011.7" font-size="38.63" fill="#646468" textLength="42.40" lengthAdjust="spacingAndGlyphs" stroke="#646468" stroke-width="0.25" stroke-linejoin="round">18</text>
<text x="246.86" y="1448.3" font-size="38.48" fill="#646468" textLength="42.40" lengthAdjust="spacingAndGlyphs" stroke="#646468" stroke-width="0.25" stroke-linejoin="round">18</text>
<text x="345.29" y="1011.7" font-size="38.63" fill="#646468" textLength="38.69" lengthAdjust="spacingAndGlyphs" stroke="#646468" stroke-width="0.25" stroke-linejoin="round">21</text>
<text x="345.29" y="1448.3" font-size="38.48" fill="#646468" textLength="38.69" lengthAdjust="spacingAndGlyphs" stroke="#646468" stroke-width="0.25" stroke-linejoin="round">21</text>
<text x="441.45" y="1011.7" font-size="38.63" fill="#646468" textLength="117.64" lengthAdjust="spacingAndGlyphs" stroke="#646468" stroke-width="0.25" stroke-linejoin="round">00 Uhr</text>
<text x="441.45" y="1448.3" font-size="38.48" fill="#646468" textLength="117.64" lengthAdjust="spacingAndGlyphs" stroke="#646468" stroke-width="0.25" stroke-linejoin="round">00 Uhr</text>
<text x="633.49" y="1011.7" font-size="38.63" fill="#646468" textLength="45.67" lengthAdjust="spacingAndGlyphs" stroke="#646468" stroke-width="0.25" stroke-linejoin="round">06</text>
<text x="633.49" y="1448.3" font-size="38.48" fill="#646468" textLength="45.67" lengthAdjust="spacingAndGlyphs" stroke="#646468" stroke-width="0.25" stroke-linejoin="round">06</text>
<text x="729.48" y="1011.7" font-size="38.63" fill="#646468" textLength="46.05" lengthAdjust="spacingAndGlyphs" stroke="#646468" stroke-width="0.25" stroke-linejoin="round">09</text>
<text x="729.48" y="1448.3" font-size="38.48" fill="#646468" textLength="46.05" lengthAdjust="spacingAndGlyphs" stroke="#646468" stroke-width="0.25" stroke-linejoin="round">09</text>
<text transform="translate(50.08 1107) scale(0.86 1)" x="0" y="0" font-size="40.01" fill="#8e8e93" textLength="218.10" lengthAdjust="spacing" stroke="#8e8e93" stroke-width="0.15" stroke-linejoin="round">AKTIVITÄT</text>
<text x="836.40" y="1142.5" font-size="38.63" fill="#646468" textLength="110.45" lengthAdjust="spacingAndGlyphs" stroke="#646468" stroke-width="0.25" stroke-linejoin="round">60min</text>
<text x="838.13" y="1277.5" font-size="38.63" fill="#646468" textLength="108.69" lengthAdjust="spacingAndGlyphs" stroke="#646468" stroke-width="0.25" stroke-linejoin="round">30min</text>
<text x="837.45" y="1412.5" font-size="38.63" fill="#646468" textLength="84.93" lengthAdjust="spacingAndGlyphs" stroke="#646468" stroke-width="0.25" stroke-linejoin="round">0min</text>
<text x="56.11" y="1509.2" font-size="38.63" fill="#646468" textLength="127.98" lengthAdjust="spacingAndGlyphs" stroke="#646468" stroke-width="0.25" stroke-linejoin="round">22. Juli</text>
<text x="441.13" y="1509.4" font-size="38.19" fill="#646468" textLength="126.22" lengthAdjust="spacingAndGlyphs" stroke="#646468" stroke-width="0.25" stroke-linejoin="round">23. Juli</text>
<text x="43.92" y="1605.8" font-size="48.18" fill="#3b82f6" textLength="290.56" lengthAdjust="spacingAndGlyphs" stroke="#3b82f6" stroke-width="0.3" stroke-linejoin="round">Bildschirm ein</text>
<text x="44.78" y="1681" font-size="60.76" fill="#ffffff" textLength="198.33" lengthAdjust="spacingAndGlyphs" stroke="#ffffff" stroke-width="0.4" stroke-linejoin="round">58 Min.</text>
<text x="479.46" y="1605.6" font-size="47.17" fill="#6cc4f8" textLength="300.18" lengthAdjust="spacingAndGlyphs" stroke="#6cc4f8" stroke-width="0.3" stroke-linejoin="round">Bildschirm aus</text>
<text x="479.11" y="1680.5" font-size="60.61" fill="#ffffff" textLength="191.83" lengthAdjust="spacingAndGlyphs" stroke="#ffffff" stroke-width="0.4" stroke-linejoin="round">14 Min.</text>
<text transform="translate(43.99 1809.6) scale(0.86 1)" x="0" y="0" font-size="40.44" fill="#8e8e93" textLength="434.06" lengthAdjust="spacing" stroke="#8e8e93" stroke-width="0.15" stroke-linejoin="round">BATTERIENUTZUNG</text>
<text transform="translate(44.79 1863.75) scale(0.86 1)" x="0" y="0" font-size="40.52" fill="#8e8e93" textLength="191.95" lengthAdjust="spacing" stroke="#8e8e93" stroke-width="0.15" stroke-linejoin="round">PRO APP</text>
<text transform="translate(520.68 1836.4) scale(0.86 1)" x="0" y="0" font-size="40.59" fill="#3b82f6" textLength="458.80" lengthAdjust="spacing" stroke="#3b82f6" stroke-width="0.15" stroke-linejoin="round">AKTIVITÄT ANZEIGEN</text>
<text x="178.51" y="1984.6" font-size="50.94" fill="#ffffff" textLength="129.50" lengthAdjust="spacingAndGlyphs" stroke="#ffffff" stroke-width="0.3" stroke-linejoin="round">Fotos</text>
<text x="792.95" y="1984.4" font-size="54.14" fill="#8e8e93" textLength="118.41" lengthAdjust="spacingAndGlyphs" stroke="#8e8e93" stroke-width="0.3" stroke-linejoin="round">29 %</text>
</svg>
</body></html>
